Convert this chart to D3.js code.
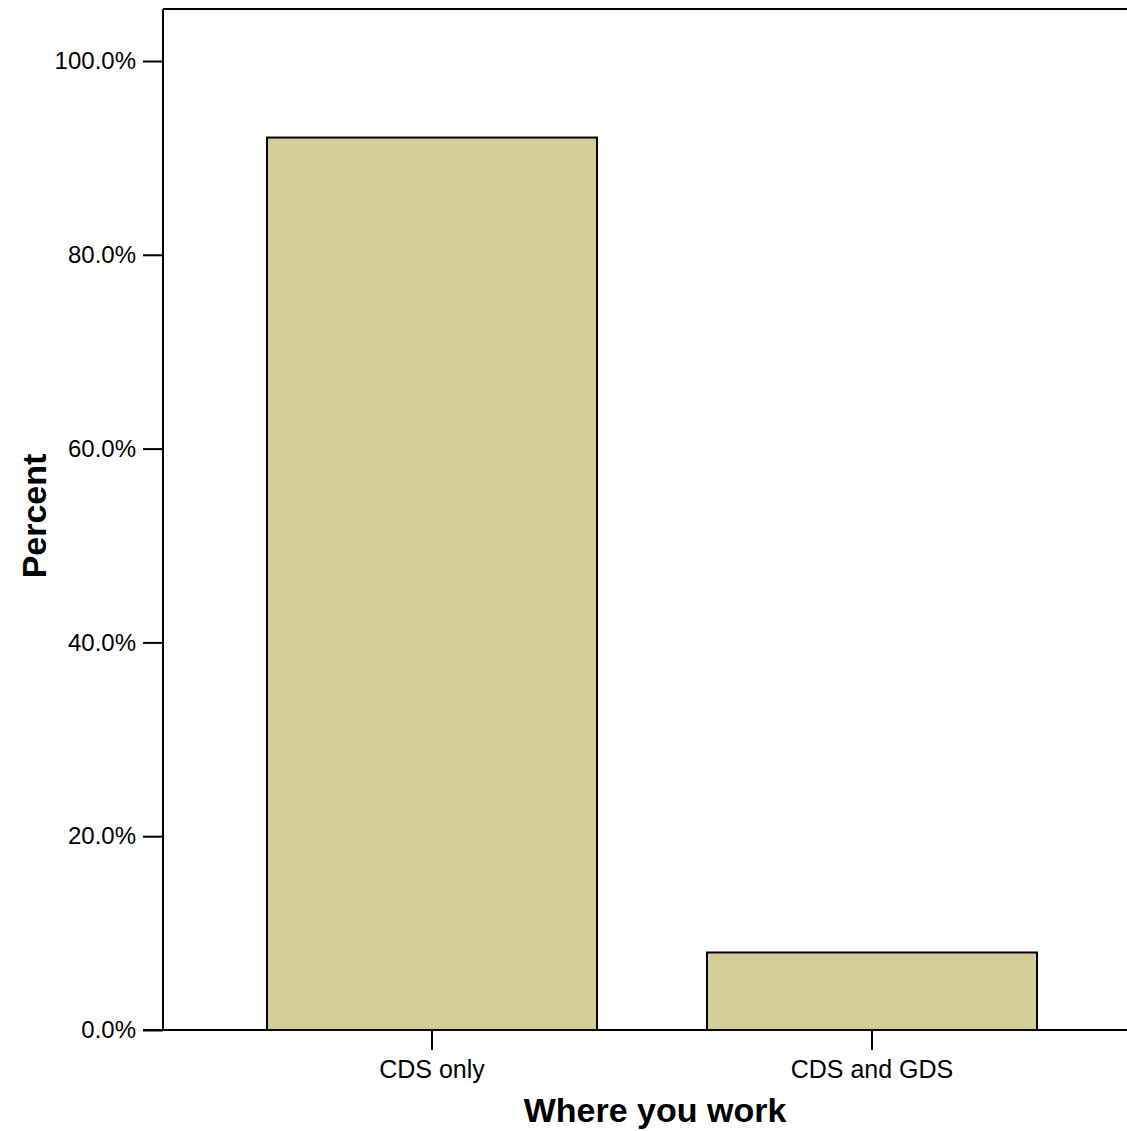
<!DOCTYPE html>
<html>
<head>
<meta charset="utf-8">
<script src="https://cdn.jsdelivr.net/npm/d3@7"></script>
<style>
  html, body { margin: 0; padding: 0; background: #fff; }
  svg { display: block; }
  text { font-family: Arial, "Liberation Sans", sans-serif; fill: #000; }
</style>
</head>
<body>
<svg id="chart" width="1127" height="1131"></svg>
<script>
const categories = ["CDS only", "CDS and GDS"];
const percents = [92.1, 8.0];
const yTicks = [0, 20, 40, 60, 80, 100];
const xTitle = "Where you work";
const yTitle = "Percent";

const plotLeft = 163, plotRight = 1127, plotTop = 9, plotBottom = 1030;

const svg = d3.select("#chart");

const x = d3.scaleBand()
  .domain(categories)
  .range([212, 1092])
  .paddingInner(0.25)
  .paddingOuter(0.125);

const y = d3.scaleLinear().domain([0, 100]).range([plotBottom, 61]);

// frame: top line
svg.append("line")
  .attr("x1", plotLeft).attr("x2", plotRight)
  .attr("y1", plotTop).attr("y2", plotTop)
  .attr("stroke", "#000").attr("stroke-width", 2);

// bars
svg.append("g").selectAll("rect")
  .data(categories.map((c, i) => ({c, v: percents[i]})))
  .join("rect")
  .attr("x", d => x(d.c))
  .attr("width", x.bandwidth())
  .attr("y", d => y(d.v))
  .attr("height", d => y(0) - y(d.v))
  .attr("fill", "#d3ce98")
  .attr("stroke", "#000")
  .attr("stroke-width", 2);

// y axis
const yAxis = d3.axisLeft(y)
  .tickValues(yTicks)
  .tickFormat(d => d3.format(".1f")(d) + "%")
  .tickSize(20)
  .tickPadding(7);
const gy = svg.append("g").attr("transform", `translate(${plotLeft},0)`).call(yAxis);
gy.select(".domain").remove();
gy.append("line").attr("x1", 0).attr("x2", 0).attr("y1", plotTop).attr("y2", plotBottom)
  .attr("stroke", "#000").attr("stroke-width", 2);
gy.selectAll(".tick line").attr("stroke", "#000").attr("stroke-width", 2);
gy.selectAll(".tick text").attr("font-size", 24).attr("fill", "#000")
  .attr("font-family", "Arial, 'Liberation Sans', sans-serif");

// x axis
const xAxis = d3.axisBottom(x).tickSize(20).tickPadding(8);
const gx = svg.append("g").attr("transform", `translate(0,${plotBottom})`).call(xAxis);
gx.select(".domain").remove();
gx.append("line").attr("x1", plotLeft - 20).attr("x2", plotRight).attr("y1", 0).attr("y2", 0)
  .attr("stroke", "#000").attr("stroke-width", 2);
gx.selectAll(".tick line").attr("stroke", "#000").attr("stroke-width", 2);
gx.selectAll(".tick text").attr("font-size", 25).attr("fill", "#000")
  .attr("dy", null).attr("y", 48)
  .attr("font-family", "Arial, 'Liberation Sans', sans-serif");

// axis titles
svg.append("text")
  .attr("x", 655).attr("y", 1122)
  .attr("text-anchor", "middle")
  .attr("font-size", 34).attr("font-weight", "bold")
  .text(xTitle);

svg.append("text")
  .attr("transform", "translate(46,516) rotate(-90)")
  .attr("text-anchor", "middle")
  .attr("font-size", 34).attr("font-weight", "bold")
  .text(yTitle);
</script>
</body>
</html>
